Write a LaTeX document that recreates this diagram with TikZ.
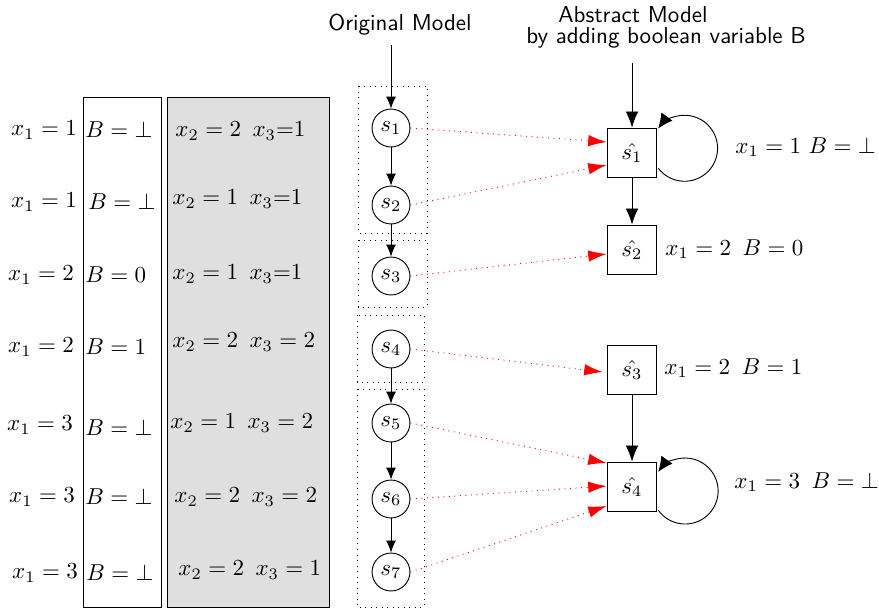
\documentclass[tikz,border=0pt]{standalone}
\usetikzlibrary{arrows.meta,calc}
\begin{document}
\begin{tikzpicture}[x=0.435pt,y=0.435pt,
  state/.style={circle,draw,minimum size=16.5pt,inner sep=0pt},
  abst/.style={rectangle,draw,minimum size=21.7pt,inner sep=0pt},
  arr/.style={-{Latex[length=5.2pt,width=4.3pt]}},
  barr/.style={-{Latex[length=7pt,width=5.5pt]}},
  larr/.style={-{Latex[length=6.5pt,width=6pt]}},
  map/.style={red,dotted,-{Latex[length=8pt,width=5pt]}},
  grp/.style={draw,dotted},
  lbl/.style={inner sep=0pt},
  ttl/.style={font=\sffamily,inner sep=0pt}]
\useasboundingbox (0,0) rectangle (879,-611);

% table
\draw (83,-97) rectangle (161,-607);
\draw[fill=gray!25] (167,-97) rectangle (329,-607);

\node[lbl] (a1) at (44,-130) {$x_1 = 1$};
\node[lbl] (a2) at (44,-202) {$x_1 = 1$};
\node[lbl] (a3) at (41,-275) {$x_1 = 2$};
\node[lbl] (a4) at (41,-347) {$x_1 = 2$};
\node[lbl] (a5) at (40,-425) {$x_1 = 3$};
\node[lbl] (a6) at (42,-497) {$x_1 = 3$};
\node[lbl] (a7) at (45,-573) {$x_1 = 3$};

\node[lbl,anchor=west] (b1) at (85,-130) {$B = \bot$};
\node[lbl,anchor=west] (b2) at (88,-202) {$B = \bot$};
\node[lbl,anchor=west] (b3) at (85,-275) {$B = 0$};
\node[lbl,anchor=west] (b4) at (85,-347) {$B = 1$};
\node[lbl,anchor=west] (b5) at (85,-428) {$B = \bot$};
\node[lbl,anchor=west] (b6) at (85,-497) {$B = \bot$};
\node[lbl,anchor=west] (b7) at (86,-573) {$B = \bot$};

\node[lbl,anchor=west] (c1) at (175,-131) {$x_2 = 2$\hspace{5pt}$x_3{=}1$};
\node[lbl,anchor=west] (c2) at (172,-199) {$x_2 = 1$\hspace{5pt}$x_3{=}1$};
\node[lbl,anchor=west] (c3) at (172,-274) {$x_2 = 1$\hspace{5pt}$x_3{=}1$};
\node[lbl,anchor=west] (c4) at (172,-342) {$x_2 = 2$\hspace{5pt}$x_3 = 2$};
\node[lbl,anchor=west] (c5) at (170,-423) {$x_2 = 1$\hspace{5pt}$x_3 = 2$};
\node[lbl,anchor=west] (c6) at (174,-497) {$x_2 = 2$\hspace{5pt}$x_3 = 2$};
\node[lbl,anchor=west] (c7) at (178,-570) {$x_2 = 2$\hspace{5pt}$x_3 = 1$};

% titles
\node[ttl] (om) at (400,-25) {Original Model};
\node[ttl] (am1) at (633,-15) {Abstract Model};
\node[ttl] (am2) at (666,-38) {by adding boolean variable B};
\coordinate (omb) at (391,-45);
\coordinate (amb) at (632,-63);

% original model groups
\draw[grp] (358,-86) rectangle (427,-233);
\draw[grp] (358,-240) rectangle (427,-307);
\draw[grp] (357,-315) rectangle (424,-382);
\draw[grp] (357,-389) rectangle (424,-607);

\node[state] (s1) at (391,-128) {$s_1$};
\node[state] (s2) at (391,-205) {$s_2$};
\node[state] (s3) at (391,-276) {$s_3$};
\node[state] (s4) at (391,-349) {$s_4$};
\node[state] (s5) at (391,-423) {$s_5$};
\node[state] (s6) at (391,-499) {$s_6$};
\node[state] (s7) at (391,-572) {$s_7$};

\draw[arr] (omb) -- (s1);
\draw[arr] (s1) -- (s2);
\draw[arr] (s2) -- (s3);
\draw[arr] (s4) -- (s5);
\draw[arr] (s5) -- (s6);
\draw[arr] (s6) -- (s7);

% abstract model
\node[abst] (h1) at (632,-153) {$\hat{s_1}$};
\node[abst] (h2) at (632,-250) {$\hat{s_2}$};
\node[abst] (h3) at (632,-370) {$\hat{s_3}$};
\node[abst] (h4) at (632,-487) {$\hat{s_4}$};

\node[lbl,anchor=west] (l1) at (735,-147) {$x_1 = 1$ $B = \bot$};
\node[lbl,anchor=west] (l2) at (665,-249) {$x_1 = 2$\hspace{5pt}$B = 0$};
\node[lbl,anchor=west] (l3) at (664,-368) {$x_1 = 2$\hspace{5pt}$B = 1$};
\node[lbl,anchor=west] (l4) at (734,-482) {$x_1 = 3$\hspace{5pt}$B = \bot$};

\draw[barr] (amb) -- (h1);
\draw[barr] (h1) -- (h2);
\draw[barr] (h3) -- (h4);

\draw[larr] ($(h1.south east)+(1,10)$) arc[start angle=217.6,end angle=503.5,radius=14.36pt];
\draw[larr] ($(h4.south east)+(1,2)$) arc[start angle=216,end angle=504.6,radius=14.36pt];

% mapping
\draw[map] (s1.east) -- ($(h1.west)+(0,11)$);
\draw[map] (s2.east) -- ($(h1.west)+(0,-12)$);
\draw[map] (s3.east) -- ($(h2.west)+(0,-4)$);
\draw[map] (s4.east) -- ($(h3.west)+(-4,-2)$);
\draw[map] (s5.east) -- ($(h4.west)+(0,24)$);
\draw[map] (s6.east) -- ($(h4.west)+(0,1)$);
\draw[map] (s7.east) -- ($(h4.west)+(0,-19)$);
\end{tikzpicture}
\end{document}
